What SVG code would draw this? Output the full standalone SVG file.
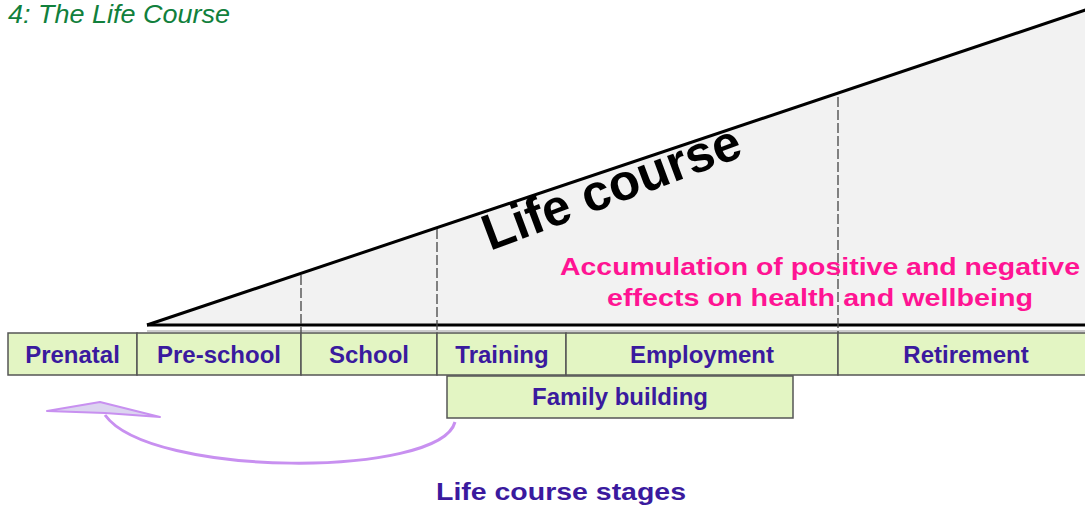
<svg xmlns="http://www.w3.org/2000/svg" width="1085" height="509" viewBox="0 0 1085 509">
<style>
.box{fill:#e3f5c3;stroke:#555;stroke-width:1.5}
.sep{stroke:#444;stroke-width:1.5}
.dash{stroke:#444;stroke-width:1.3;stroke-dasharray:10 3}
.lbl{font-family:"Liberation Sans",Arial,sans-serif;font-weight:bold;font-size:24px;fill:#3a1a9e;text-anchor:middle}
.pink{font-family:"Liberation Sans",Arial,sans-serif;font-weight:bold;font-size:24px;fill:#ff1493;text-anchor:middle}
</style>
<rect width="1085" height="509" fill="#fff"/>
<text x="8" y="23" font-family="'Liberation Sans',Arial,sans-serif" font-style="italic" font-size="26" fill="#11803c" textLength="222" lengthAdjust="spacingAndGlyphs">4: The Life Course</text>
<g id="wedge">
<path d="M147,325 L1085,10 L1085,325 Z" fill="#f2f2f2"/>
<line x1="147" y1="325" x2="1087" y2="9.5" stroke="#000" stroke-width="3"/>
<line x1="147" y1="325" x2="1085" y2="325" stroke="#000" stroke-width="3"/>
<line x1="147" y1="331" x2="1085" y2="331" stroke="#999" stroke-width="1"/>
<line class="dash" x1="301" y1="275" x2="301" y2="333"/>
<line class="dash" x1="437" y1="229" x2="437" y2="333"/>
<line class="dash" x1="838" y1="97" x2="838" y2="333"/>
<text x="490" y="251" transform="rotate(-20.5 490 251)" font-family="'Liberation Sans',Arial,sans-serif" font-weight="bold" font-size="51" fill="#000">Life course</text>
<text class="pink" x="820" y="275" textLength="520" lengthAdjust="spacingAndGlyphs">Accumulation of positive and negative</text>
<text class="pink" x="820" y="306" textLength="426" lengthAdjust="spacingAndGlyphs">effects on health and wellbeing</text>
</g>
<g id="prenatal"><rect class="box" x="8" y="333" width="129" height="42"/><text class="lbl" x="72.5" y="363">Prenatal</text></g>
<g id="preschool"><rect class="box" x="137" y="333" width="164" height="42"/><text class="lbl" x="219" y="363">Pre-school</text></g>
<g id="school"><rect class="box" x="301" y="333" width="136" height="42"/><text class="lbl" x="369" y="363">School</text></g>
<g id="training"><rect class="box" x="437" y="333" width="129" height="42"/><text class="lbl" x="502" y="363">Training</text></g>
<g id="employment"><rect class="box" x="566" y="333" width="272" height="42"/><text class="lbl" x="702" y="363">Employment</text></g>
<g id="retirement"><rect class="box" x="838" y="333" width="260" height="42"/><text class="lbl" x="966" y="363">Retirement</text></g>
<g id="family"><rect class="box" x="447" y="376" width="346" height="42"/><text class="lbl" x="620" y="405">Family building</text></g>
<g id="connectors">
<path d="M455,422 C440,478 150,478 105,415" fill="none" stroke="#c890f0" stroke-width="3"/>
<polygon points="47,411 100,402 160,417 105,413" fill="#dcd4f0" stroke="#c890f0" stroke-width="2" stroke-linejoin="round"/>
</g>
<text class="lbl" x="561" y="500" textLength="250" lengthAdjust="spacingAndGlyphs">Life course stages</text>
</svg>
